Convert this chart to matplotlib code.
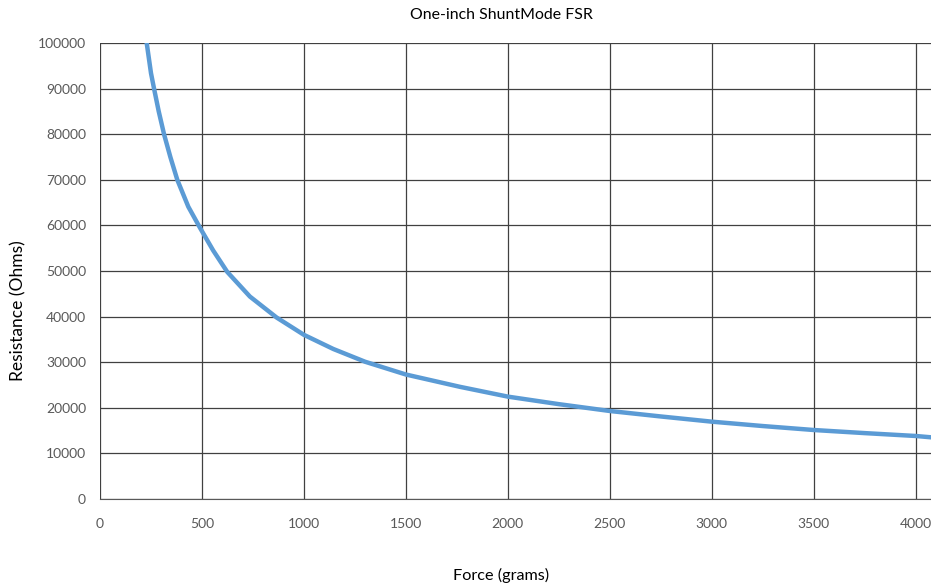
import matplotlib
matplotlib.use("Agg")
from matplotlib import pyplot as plt

# values
force = [229, 250, 265, 288, 314, 345, 379, 433, 490, 555, 624, 735, 866,
         1000, 1144, 1300, 1500, 1765, 2000, 2250, 2500, 2750, 3000, 3250,
         3500, 3750, 4000, 4075]
resistance = [100000, 93400, 90000, 85000, 80000, 75000, 70000, 64100,
              59500, 54500, 49800, 44400, 39800, 36000, 32900, 30100, 27300,
              24600, 22450, 20800, 19300, 18100, 16960, 16000, 15130, 14450,
              13820, 13530]

x_ticks = [0, 500, 1000, 1500, 2000, 2500, 3000, 3500, 4000]
y_ticks = list(range(0, 100001, 10000))

plt.rcParams["font.family"] = ["Lato", "DejaVu Sans"]

fig = plt.figure(figsize=(9.31, 5.88), dpi=100)
ax = fig.add_axes([100 / 931, 89 / 588, 831 / 931, 456 / 588])

ax.plot(force, resistance, color="#5B9BD5", lw=3.2, solid_joinstyle="round",
        zorder=3)

ax.set_xlim(0, 4075)
ax.set_ylim(0, 100000)
ax.set_xticks(x_ticks)
ax.set_yticks(y_ticks)
ax.tick_params(length=0, labelsize=10, labelcolor="#595959")
ax.tick_params(axis="x", pad=14)
ax.tick_params(axis="y", pad=10)
ax.grid(True, color="#404040", lw=0.9)
for s in ax.spines.values():
    s.set_visible(False)
ax.spines["bottom"].set_visible(True)
ax.spines["bottom"].set_color("#595959")

fig.text(501 / 931, 1 - 15 / 588, "One-inch ShuntMode FSR", ha="center",
         va="center", fontsize=11.4)
fig.text(501 / 931, 1 - 575 / 588, "Force (grams)", ha="center",
         va="center", fontsize=11.7)
fig.text(18 / 931, 1 - 311 / 588, "Resistance (Ohms)", ha="center",
         va="center", rotation=90, fontsize=12.5)

fig.savefig("out.png", dpi=100)
